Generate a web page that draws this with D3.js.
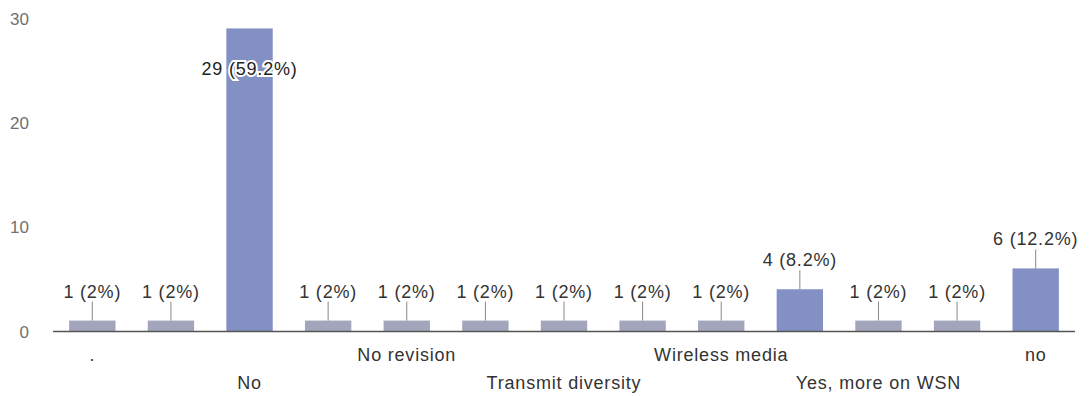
<!DOCTYPE html>
<html>
<head>
<meta charset="utf-8">
<script src="https://cdn.jsdelivr.net/npm/d3@7"></script>
<style>
  html, body { margin: 0; padding: 0; background: #fff; }
  svg { display: block; font-family: "Liberation Sans", Arial, sans-serif; }
  .lbl { font-size: 18px; letter-spacing: 0.8px; }
</style>
</head>
<body>
<svg id="chart" width="1092" height="396"></svg>
<script>
// Response counts per answer; only every other answer name is printed on the axis.
const categories = [".", "", "No", "", "No revision", "", "Transmit diversity", "", "Wireless media", "", "Yes, more on WSN", "", "no"];
const counts = [1, 1, 29, 1, 1, 1, 1, 1, 1, 4, 1, 1, 6];
const percents = ["2%", "2%", "59.2%", "2%", "2%", "2%", "2%", "2%", "2%", "8.2%", "2%", "2%", "12.2%"];
const yTicks = [0, 10, 20, 30];

const svg = d3.select("#chart");

const x = d3.scaleBand()
  .domain(d3.range(counts.length))
  .range([53, 1075])
  .paddingInner(0.41)
  .paddingOuter(0.205);

const y = d3.scaleLinear().domain([0, 30]).range([331, 18]);

const data = counts.map((v, i) => ({ i, v, label: `${v} (${percents[i]})` }));

// y-axis: labels only, no line or tick marks
const yAxis = svg.append("g")
  .attr("transform", "translate(29,0)")
  .call(d3.axisLeft(y).tickValues(yTicks).tickSize(0).tickPadding(0));
yAxis.select(".domain").remove();
yAxis.selectAll("text")
  .attr("font-size", 17)
  .attr("font-family", "'Liberation Sans', Arial, sans-serif")
  .attr("fill", "#707070")
  .attr("dy", "0.36em");

// bars
svg.append("g").selectAll("rect")
  .data(data)
  .join("rect")
  .attr("x", d => x(d.i))
  .attr("width", x.bandwidth())
  .attr("y", d => y(d.v))
  .attr("height", d => y(0) - y(d.v))
  .attr("fill", d => d.v > 1 ? "#8290c4" : "#a3a5bd");

// baseline
svg.append("line")
  .attr("x1", 53).attr("x2", 1075)
  .attr("y1", y(0) + 0.5).attr("y2", y(0) + 0.5)
  .attr("stroke", "#555").attr("stroke-width", 1.5);

// value labels: above the bar with a leader line, or inside when the bar is too tall
const labels = svg.append("g");
data.forEach(d => {
  const cx = x(d.i) + x.bandwidth() / 2;
  const top = y(d.v);
  if (top - 23 < 20) {
    labels.append("text")
      .attr("class", "lbl")
      .attr("x", cx).attr("y", top + 47)
      .attr("text-anchor", "middle")
      .attr("fill", "#222")
      .attr("stroke", "#fff").attr("stroke-width", 4)
      .attr("paint-order", "stroke")
      .text(d.label);
  } else {
    labels.append("line")
      .attr("x1", cx).attr("x2", cx)
      .attr("y1", top - 19).attr("y2", top)
      .attr("stroke", "#888").attr("stroke-width", 1);
    labels.append("text")
      .attr("class", "lbl")
      .attr("x", cx).attr("y", top - 23)
      .attr("text-anchor", "middle")
      .attr("fill", "#333")
      .text(d.label);
  }
});

// category labels, staggered over two rows
const shown = data.filter(d => categories[d.i] !== "");
svg.append("g").selectAll("text")
  .data(shown)
  .join("text")
  .attr("class", "lbl")
  .attr("x", d => x(d.i) + x.bandwidth() / 2)
  .attr("y", (d, k) => k % 2 === 0 ? 361 : 389)
  .attr("text-anchor", "middle")
  .attr("fill", "#333")
  .text(d => categories[d.i]);
</script>
</body>
</html>
